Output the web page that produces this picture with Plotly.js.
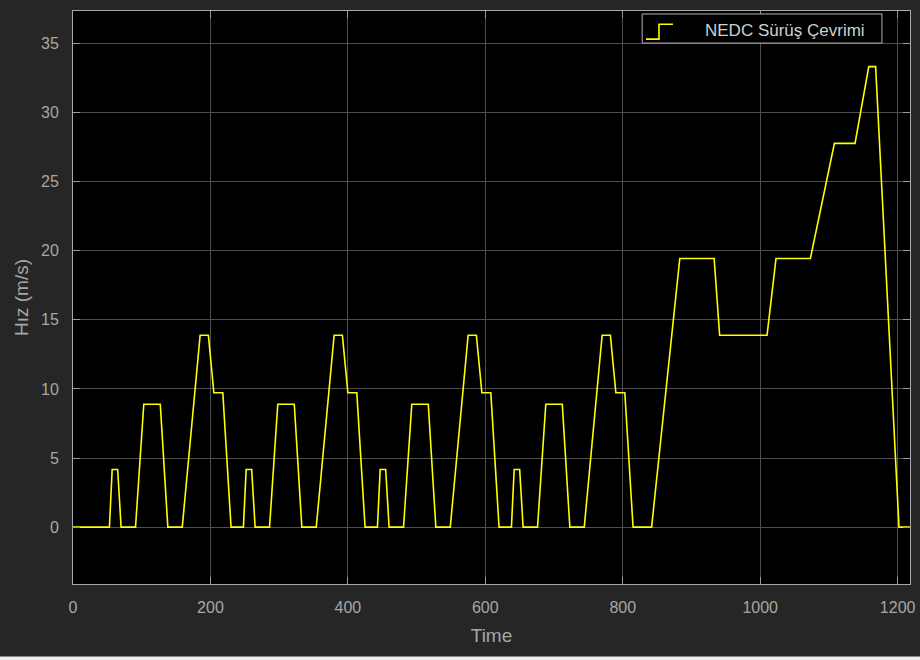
<!DOCTYPE html>
<html>
<head>
<meta charset="utf-8">
<script src="https://cdn.plot.ly/plotly-3.0.1.min.js"></script>
<style>
  html, body { margin: 0; padding: 0; background: #262626; }
  #chart { width: 920px; height: 660px; }
</style>
</head>
<body>
<div id="chart"></div>
<script>
// NEDC drive cycle breakpoints (time in s, speed in m/s)
var timeS = [
  0, 53, 57, 65, 70, 91, 103, 127, 138, 159, 185, 197, 205, 218, 230,
  248, 252, 260, 265, 286, 298, 322, 333, 354, 380, 392, 400, 413, 425,
  443, 447, 455, 460, 481, 493, 517, 528, 549, 575, 587, 595, 608, 620,
  638, 642, 650, 655, 676, 688, 712, 723, 744, 770, 782, 790, 803, 815,
  842, 883, 933, 941, 1010, 1023, 1073, 1108, 1138, 1158, 1168, 1202, 1222
];
var speedMS = [
  0, 0, 4.17, 4.17, 0, 0, 8.89, 8.89, 0, 0, 13.89, 13.89, 9.72, 9.72, 0,
  0, 4.17, 4.17, 0, 0, 8.89, 8.89, 0, 0, 13.89, 13.89, 9.72, 9.72, 0,
  0, 4.17, 4.17, 0, 0, 8.89, 8.89, 0, 0, 13.89, 13.89, 9.72, 9.72, 0,
  0, 4.17, 4.17, 0, 0, 8.89, 8.89, 0, 0, 13.89, 13.89, 9.72, 9.72, 0,
  0, 19.44, 19.44, 13.89, 13.89, 19.44, 19.44, 27.78, 27.78, 33.33, 33.33, 0, 0
];
var xTicks = [0, 200, 400, 600, 800, 1000, 1200];
var yTicks = [0, 5, 10, 15, 20, 25, 30, 35];
var seriesName = "NEDC Sürüş Çevrimi";

var trace = {
  x: timeS, y: speedMS, type: "scatter", mode: "lines",
  name: seriesName, showlegend: false,
  line: { color: "#ffff00", width: 1.6, shape: "linear" },
  hoverinfo: "x+y"
};

var font = "Liberation Sans, Arial, Helvetica, sans-serif";
var layout = {
  width: 920, height: 660,
  paper_bgcolor: "#262626", plot_bgcolor: "#000000",
  margin: { l: 73, r: 10, t: 11, b: 76, pad: 0 },
  font: { family: font, color: "#a6a6a6", size: 16 },
  showlegend: false,
  xaxis: {
    range: [0, 1218], tickvals: xTicks, ticktext: xTicks.map(String),
    showgrid: true, gridcolor: "#4f4f4f", gridwidth: 1,
    zeroline: false, showline: true, linecolor: "#a8a8a8", linewidth: 1, mirror: "ticks",
    ticks: "inside", ticklen: 7, tickcolor: "#9a9a9a",
    ticklabelstandoff: 9,
    tickfont: { family: font, size: 16, color: "#a6a6a6" },
    title: { text: "Time", font: { family: font, size: 19, color: "#a6a6a6" }, standoff: 13 }
  },
  yaxis: {
    range: [-4.12, 37.36], tickvals: yTicks, ticktext: yTicks.map(String),
    showgrid: true, gridcolor: "#4f4f4f", gridwidth: 1,
    zeroline: false, showline: true, linecolor: "#a8a8a8", linewidth: 1, mirror: "ticks",
    ticks: "inside", ticklen: 7, tickcolor: "#9a9a9a",
    ticklabelstandoff: 10,
    tickfont: { family: font, size: 16, color: "#a6a6a6" },
    title: { text: "Hız (m/s)", font: { family: font, size: 19, color: "#a6a6a6" }, standoff: 7 }
  },
  shapes: [
    { type: "rect", xref: "paper", yref: "paper", x0: 0.680, x1: 0.9665, y0: 0.944, y1: 0.9948,
      fillcolor: "#000000", line: { color: "#b4b4b4", width: 1 }, layer: "above" },
    { type: "path", xref: "paper", yref: "paper",
      path: "M0.6846,0.951 L0.7001,0.951 L0.7001,0.977 L0.7168,0.977",
      line: { color: "#ffff00", width: 1.6 }, layer: "above" },
    { type: "rect", xref: "paper", yref: "paper", x0: -0.12, x1: 1.03, y0: -0.14, y1: -0.1265,
      fillcolor: "#eeeeee", line: { width: 0 }, layer: "above" }
  ],
  annotations: [
    { xref: "paper", yref: "paper", x: 0.7527, y: 0.9665, xanchor: "left", yanchor: "middle",
      text: seriesName, showarrow: false,
      font: { family: font, size: 17, color: "#cfcfcf" } }
  ]
};

Plotly.newPlot("chart", [trace], layout, { displayModeBar: false, staticPlot: true });
</script>
</body>
</html>
